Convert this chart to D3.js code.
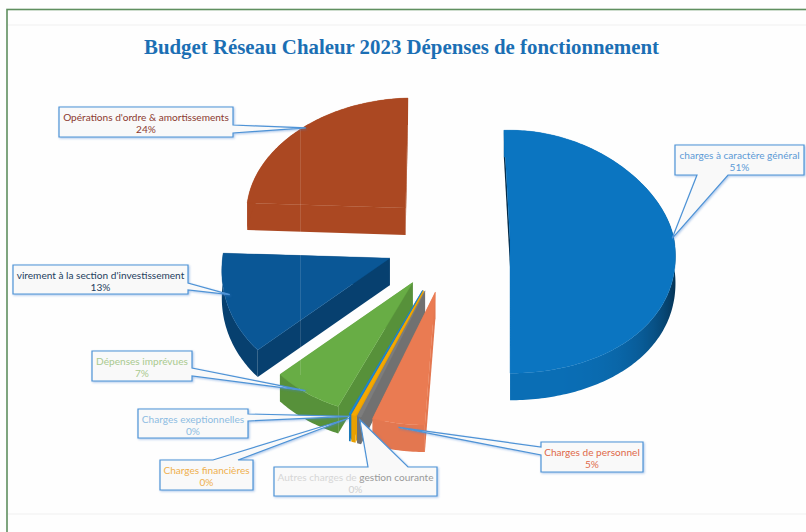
<!DOCTYPE html>
<html><head><meta charset="utf-8">
<style>html,body{margin:0;padding:0;background:#fff}svg{display:block}</style>
<script src="https://cdn.jsdelivr.net/npm/d3@7"></script></head>
<body><svg id="c" width="806" height="532"></svg>
<script>
// ---- data ----
const titleText = "Budget Réseau Chaleur 2023 Dépenses de fonctionnement";
const categories = ["charges à caractère général","Charges de personnel","Autres charges de gestion courante","Charges financières","Charges exeptionnelles","Dépenses imprévues","virement à la section d'investissement","Opérations d'ordre & amortissements"];
const values = [51.2,5,0.4,0.4,0.15,7,13,24];
// ---- styles ----
const topColors = ["#0b75c1","#ea7b52","#7d7d7d","#f5a800","#1f87d0","#68ad45","#0a5796","#ab4822"];
const labelColors = ["#5c9ad6","#e0694a","#a8a8a8","#efb04e","#8dbce2","#a9c98f","#24405e","#8b3a30"];
const wallBase = [0.06,0.03,0.1,0.05,0.1,0.16,0.26,0];
// ---- layout ----
const explode = [65,61,62,62,62,58,59,56];
const lift = [4,0,0,0,0,0,3,6];
const drawOrder = [7,6,5,4,3,2,1,0];
const boxes = [[675,145,129,30],[541,442,102,30],[274,467,163,29],[160,460,93,30],[138,409,110,29],[92,351,100,30],[13,265,175,29],[59,107,174,30]];
const tailSide = ["b","l","t","t","r","r","r","r"];
const tailBase = [[22,53],[5,13],[94,134],[53,78],[5,12],[17,25],[18,25],[18,26]];
const tipAngle = [89,188.7,198,201,200.6,214.8,253.6,317.6];
const tipFrac = [0.99,1.03,1.02,1.03,1.015,0.99,0.97,0.985];

const rad = Math.PI/180, cx=445, cy=245, rx=165, ryUp=110, ryDown=133, depth=27, shear=0.14, shearUp=0.08, shearOrigin=505, fan=0.12;
const svg = d3.select("#c");
const defs = svg.append("defs");
svg.append("rect").attr("width",806).attr("height",532).attr("fill","#fefefe");
svg.append("rect").attr("x",7).attr("y",9.5).attr("width",815).attr("height",540).attr("fill","none").attr("stroke","#5f8f5f").attr("stroke-width",1.6);
[25,514].forEach(y=>svg.append("line").attr("x1",8).attr("x2",806).attr("y1",y).attr("y2",y).attr("stroke","#f0f0f0"));

svg.append("text").attr("x",401.5).attr("y",54).attr("text-anchor","middle")
  .attr("font-family","'Liberation Serif',serif").attr("font-weight",700).attr("font-size",21.5)
  .attr("fill","#1b6fb4").attr("textLength",515).attr("lengthAdjust","spacingAndGlyphs").text(titleText);

const pie = d3.pie().sort(null).startAngle(-2*rad).endAngle(358*rad);
const arcs = pie(values);
const apex = arcs.map((d,i)=>{const m=(d.startAngle+d.endAngle)/2;return [cx+explode[i]*Math.sin(m),cy-explode[i]*Math.cos(m)*0.78-lift[i]];});
function project(i,a,f,z){
  const v=-Math.cos(a)*f, s=Math.sin(a);
  const scale=1+(apex[i][1]-245)*0.001+(s>0?fan*v:0);
  return [apex[i][0]+rx*f*s*scale+(v>0?shear:shearUp)*(apex[i][0]-shearOrigin)*v,
          apex[i][1]+v*(v>0?ryDown:ryUp)+z];
}
const line = d3.line();
const shade = (i,a)=>d3.interpolateRgb(topColors[i],"#000")(wallBase[i]+0.55*Math.pow(Math.max(0,Math.sin(a)),4));
function drawSlice(i){
  const d=arcs[i], g=svg.append("g");
  const s=d.startAngle,e=d.endAngle;
  const radial=a=>line([project(i,a,0,0),project(i,a,0,depth),project(i,a,1,depth),project(i,a,1,0)])+"Z";
  const base=d3.interpolateRgb(topColors[i],"#000");
  g.append("path").attr("d",radial(e)).attr("fill",base(wallBase[i]));
  g.append("path").attr("d",radial(s)).attr("fill",base(i===0?0.65:wallBase[i]));
  const n=Math.max(2,Math.ceil((e-s)/(1*rad)));
  const ts=d3.range(n+1).map(k=>s+(e-s)*k/n);
  // outer wall: one path; the right-hand side of the pie darkens through a gradient
  let wallFill=base(wallBase[i]);
  if(Math.sin((s+e)/2)>0.3){
    const vis=ts.filter(a=>a>=Math.PI/2);
    const xs=vis.map(a=>project(i,a,1,0)[0]);
    const id="wall"+i;
    const gr=defs.append("linearGradient").attr("id",id).attr("gradientUnits","userSpaceOnUse")
      .attr("x1",d3.min(xs)).attr("x2",d3.max(xs)).attr("y1",0).attr("y2",0);
    const x0=d3.min(xs),x1=d3.max(xs);
    vis.slice().reverse().forEach(a=>gr.append("stop").attr("offset",(project(i,a,1,0)[0]-x0)/(x1-x0)).attr("stop-color",shade(i,a)));
    wallFill="url(#"+id+")";
  }
  g.append("path").attr("d",line([...ts.map(a=>project(i,a,1,0)),...ts.slice().reverse().map(a=>project(i,a,1,depth))])+"Z").attr("fill",wallFill);
  g.append("path").attr("d",line([project(i,s,0,0),...ts.map(a=>project(i,a,1,0))])+"Z").attr("fill",topColors[i]).attr("stroke",topColors[i]).attr("stroke-width",0.4);
}
drawOrder.forEach(drawSlice);
// scan fold line
svg.append("line").attr("x1",300.5).attr("x2",300.5).attr("y1",128).attr("y2",375).attr("stroke","rgba(255,255,255,0.13)");

// ---- callouts ----
const callouts = svg.append("g").style("filter","drop-shadow(1px 1px 1px rgba(70,130,210,0.45))");
function calloutPath(i){
  const [x,y,w,h]=boxes[i],[b0,b1]=tailBase[i],side=tailSide[i];
  const tip=project(i,tipAngle[i]*rad,tipFrac[i],0);
  const p=d3.path();p.moveTo(x,y);
  if(side==="t"){p.lineTo(x+b0,y);p.lineTo(tip[0],tip[1]);p.lineTo(x+b1,y);}
  p.lineTo(x+w,y);
  if(side==="r"){p.lineTo(x+w,y+b0);p.lineTo(tip[0],tip[1]);p.lineTo(x+w,y+b1);}
  p.lineTo(x+w,y+h);
  if(side==="b"){p.lineTo(x+b1,y+h);p.lineTo(tip[0],tip[1]);p.lineTo(x+b0,y+h);}
  p.lineTo(x,y+h);
  if(side==="l"){p.lineTo(x,y+b1);p.lineTo(tip[0],tip[1]);p.lineTo(x,y+b0);}
  p.closePath();return p.toString();
}
const pct=d3.format(".0f");
categories.forEach((c,i)=>{
  callouts.append("path").attr("d",calloutPath(i)).attr("fill","#f9f9f9").attr("stroke","#4e93d6").attr("stroke-width",1.2).attr("stroke-linejoin","miter");
});
categories.forEach((c,i)=>{
  const [x,y,w,h]=boxes[i];
  const t=svg.append("text").attr("text-anchor","middle").attr("font-family","Lato,'Open Sans',sans-serif").attr("font-size",10.1).attr("fill",labelColors[i]);
  const l1=t.append("tspan").attr("x",x+w/2).attr("y",y+13.5);
  if(i===2){
    l1.append("tspan").attr("fill","#d6d6d6").text("Autres charges de ");
    l1.append("tspan").attr("fill","#9a9a9a").text("gestion courante");
  } else l1.text(c);
  t.append("tspan").attr("x",x+w/2).attr("y",y+26).attr("fill",i===2?"#d0d0d0":null).text(pct(values[i])+"%");
});
</script></body></html>
